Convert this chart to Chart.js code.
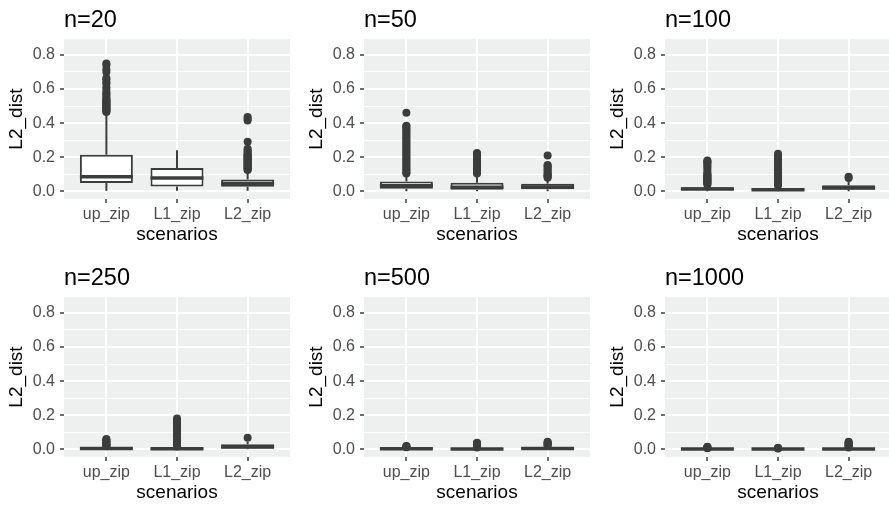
<!DOCTYPE html>
<html><head><meta charset="utf-8">
<script src="https://cdn.jsdelivr.net/npm/chart.js@4.4.1/dist/chart.umd.min.js"></script>
<style>
html,body{margin:0;padding:0;background:#fff;overflow:hidden;width:889px;height:505px;position:relative;}
canvas{position:absolute;}
</style></head><body>
<script>
// ---------- data ----------
const categories = ['up_zip', 'L1_zip', 'L2_zip'];
const categoryPositions = [1, 2, 3];
const panelTitles = ['n=20', 'n=50', 'n=100', 'n=250', 'n=500', 'n=1000'];
const yMajorTicks = [0.0, 0.2, 0.4, 0.6, 0.8];
const yTickLabels = ['0.0', '0.2', '0.4', '0.6', '0.8'];
const yMinorTicks = [0.1, 0.3, 0.5, 0.7];

// box statistics, one row per panel, one value per category
const whiskerLow = [
  [0.004, 0.003, 0.004],
  [0.001, 0.001, 0.001],
  [0.000, 0.000, 0.001],
  [0.000, 0.000, 0.000],
  [0.000, 0.000, 0.000],
  [0.000, 0.000, 0.000]
];
const q1 = [
  [0.049, 0.029, 0.027],
  [0.015, 0.009, 0.012],
  [0.007, 0.004, 0.010],
  [0.002, 0.001, 0.005],
  [0.001, 0.001, 0.002],
  [0.0005, 0.0005, 0.001]
];
const median = [
  [0.085, 0.078, 0.046],
  [0.033, 0.024, 0.026],
  [0.013, 0.009, 0.020],
  [0.005, 0.004, 0.014],
  [0.003, 0.002, 0.005],
  [0.0015, 0.0012, 0.0025]
];
const q3 = [
  [0.214, 0.137, 0.070],
  [0.057, 0.050, 0.044],
  [0.024, 0.020, 0.035],
  [0.009, 0.008, 0.030],
  [0.006, 0.005, 0.010],
  [0.003, 0.0025, 0.005]
];
const whiskerHigh = [
  [0.460, 0.241, 0.120],
  [0.100, 0.100, 0.075],
  [0.038, 0.032, 0.065],
  [0.016, 0.015, 0.045],
  [0.011, 0.009, 0.018],
  [0.0055, 0.0045, 0.009]
];

// outliers per panel: [up_zip, L1_zip, L2_zip]
const outliersN20 = [
  [0.465, 0.47, 0.475, 0.48, 0.485, 0.49, 0.495, 0.50, 0.505, 0.51, 0.515, 0.52, 0.525, 0.53, 0.535, 0.54, 0.55, 0.56, 0.57, 0.58, 0.595, 0.61, 0.63, 0.64, 0.655, 0.665, 0.70, 0.715, 0.74, 0.75],
  [],
  [0.125, 0.13, 0.135, 0.14, 0.145, 0.15, 0.155, 0.16, 0.165, 0.17, 0.175, 0.18, 0.185, 0.19, 0.195, 0.20, 0.205, 0.21, 0.215, 0.22, 0.23, 0.24, 0.25, 0.29, 0.415, 0.425, 0.435]
];
const outliersN50 = [
  [0.105, 0.11, 0.12, 0.13, 0.14, 0.15, 0.16, 0.17, 0.18, 0.19, 0.20, 0.21, 0.22, 0.23, 0.24, 0.25, 0.26, 0.27, 0.28, 0.29, 0.30, 0.31, 0.32, 0.33, 0.34, 0.35, 0.36, 0.37, 0.38, 0.385, 0.46],
  [0.105, 0.11, 0.12, 0.13, 0.14, 0.15, 0.16, 0.17, 0.18, 0.19, 0.20, 0.21, 0.22, 0.225],
  [0.08, 0.085, 0.09, 0.095, 0.10, 0.11, 0.12, 0.13, 0.14, 0.15, 0.155, 0.21]
];
const outliersN100 = [
  [0.04, 0.045, 0.05, 0.055, 0.06, 0.065, 0.07, 0.075, 0.08, 0.085, 0.09, 0.095, 0.10, 0.11, 0.125, 0.14, 0.15, 0.16, 0.17, 0.175, 0.18],
  [0.035, 0.04, 0.05, 0.06, 0.07, 0.08, 0.09, 0.10, 0.11, 0.12, 0.13, 0.14, 0.15, 0.16, 0.17, 0.18, 0.19, 0.20, 0.21, 0.22],
  [0.078, 0.085]
];
const outliersN250 = [
  [0.018, 0.022, 0.026, 0.03, 0.035, 0.04, 0.045, 0.05, 0.055, 0.06],
  [0.017, 0.02, 0.025, 0.03, 0.035, 0.04, 0.05, 0.06, 0.07, 0.08, 0.09, 0.10, 0.11, 0.12, 0.13, 0.14, 0.15, 0.16, 0.17, 0.18],
  [0.068]
];
const outliersN500 = [
  [0.012, 0.015, 0.018, 0.02],
  [0.011, 0.015, 0.02, 0.025, 0.03, 0.035, 0.038],
  [0.02, 0.025, 0.03, 0.035, 0.04, 0.045]
];
const outliersN1000 = [
  [0.006, 0.008, 0.01, 0.012, 0.015],
  [0.005, 0.007, 0.009],
  [0.01, 0.015, 0.02, 0.025, 0.03, 0.035, 0.04, 0.045]
];
const outliers = [outliersN20, outliersN50, outliersN100, outliersN250, outliersN500, outliersN1000];

// ---------- style / layout ----------
const FONT = "'Liberation Sans', Arial, Helvetica, sans-serif";
const LINE = '#3c3c3c';
const PANEL_BG = '#EEEFEF';
const colLeft = [0, 300, 601];
const rowTop = [0, 258];
const CW = 294, CH = 250;

const panelBg = {
  id: 'panelBg',
  beforeDraw(chart) {
    const { ctx, chartArea: a } = chart;
    ctx.save();
    ctx.fillStyle = PANEL_BG;
    ctx.fillRect(a.left, a.top, a.width, a.height);
    ctx.restore();
  }
};

function isMajor(v) { return yMajorTicks.some(m => Math.abs(m - v) < 1e-9); }

function makeChart(p) {
  const canvas = document.createElement('canvas');
  canvas.width = CW; canvas.height = CH;
  canvas.style.left = colLeft[p % 3] + 'px';
  canvas.style.top = rowTop[Math.floor(p / 3)] + 'px';
  canvas.style.width = CW + 'px'; canvas.style.height = CH + 'px';
  document.body.appendChild(canvas);

  const boxData = categories.map((c, i) => ({ x: categoryPositions[i], y: [q1[p][i], q3[p][i]] }));
  const outlierData = [];
  outliers[p].forEach((arr, i) => arr.forEach(v => outlierData.push({ x: categoryPositions[i], y: v })));

  const boxExtras = {
    id: 'boxExtras',
    beforeDatasetDraw(chart, args) {
      if (args.index !== 0) return;
      const ctx = chart.ctx, ys = chart.scales.y;
      const meta = chart.getDatasetMeta(0);
      ctx.save();
      ctx.strokeStyle = LINE; ctx.lineWidth = 2; ctx.lineCap = 'butt';
      meta.data.forEach((el, i) => {
        ctx.beginPath();
        ctx.moveTo(el.x, ys.getPixelForValue(q3[p][i]));
        ctx.lineTo(el.x, ys.getPixelForValue(whiskerHigh[p][i]));
        ctx.moveTo(el.x, ys.getPixelForValue(q1[p][i]));
        ctx.lineTo(el.x, ys.getPixelForValue(whiskerLow[p][i]));
        ctx.stroke();
      });
      ctx.restore();
    },
    afterDatasetDraw(chart, args) {
      if (args.index !== 0) return;
      const ctx = chart.ctx, ys = chart.scales.y;
      const meta = chart.getDatasetMeta(0);
      ctx.save();
      ctx.strokeStyle = LINE; ctx.lineWidth = 3.5; ctx.lineCap = 'butt';
      meta.data.forEach((el, i) => {
        const y = ys.getPixelForValue(median[p][i]);
        ctx.beginPath();
        ctx.moveTo(el.x - el.width / 2, y);
        ctx.lineTo(el.x + el.width / 2, y);
        ctx.stroke();
      });
      ctx.restore();
    }
  };

  new Chart(canvas, {
    type: 'bar',
    data: {
      datasets: [
        { type: 'bar', data: boxData, backgroundColor: '#ffffff', borderColor: LINE, borderWidth: 2,
          borderSkipped: false, barPercentage: 0.75, categoryPercentage: 1, order: 0 },
        { type: 'scatter', data: outlierData, pointRadius: 4, pointBackgroundColor: LINE,
          pointBorderWidth: 0, pointBorderColor: LINE, order: 1 }
      ]
    },
    options: {
      responsive: false, animation: false, events: [], devicePixelRatio: 1,
      layout: { padding: { left: 0, right: 3, top: 0, bottom: 0 } },
      plugins: {
        legend: { display: false },
        tooltip: { enabled: false },
        title: { display: true, text: panelTitles[p], align: 'start', fullSize: false,
          color: '#000', font: { size: 23.5, family: FONT, weight: 'normal' },
          padding: { top: 6, bottom: 4.8 } }
      },
      scales: {
        x: {
          type: 'linear', min: 0.4, max: 3.6, offset: false,
          afterBuildTicks: s => { s.ticks = categoryPositions.map(v => ({ value: v })); },
          afterFit: s => { s.height = CH - 39 - 160; },
          ticks: { callback: (v, i) => categories[i], autoSkip: false, maxRotation: 0, minRotation: 0,
            padding: 2, color: '#4d4d4d', font: { size: 16, family: FONT } },
          grid: { offset: false, color: '#ffffff', lineWidth: 2, tickLength: 4, tickColor: LINE, tickWidth: 1.5 },
          border: { display: false },
          title: { display: true, text: 'scenarios', color: '#000', font: { size: 19, family: FONT },
            padding: { top: 0, bottom: 3.6 } }
        },
        y: {
          type: 'linear', min: -0.045, max: 0.893, beginAtZero: false,
          afterBuildTicks: s => { s.ticks = yMajorTicks.concat(yMinorTicks).sort((a, b) => a - b).map(v => ({ value: v })); },
          afterFit: s => { s.width = 64; },
          ticks: {
            callback: v => { const k = yMajorTicks.findIndex(m => Math.abs(m - v) < 1e-9); return k >= 0 ? yTickLabels[k] : ''; },
            autoSkip: false, padding: 5, color: '#4d4d4d', font: { size: 16, family: FONT }
          },
          grid: {
            color: '#ffffff',
            lineWidth: ctx => (ctx.tick && isMajor(ctx.tick.value)) ? 2 : 1,
            tickColor: ctx => (ctx.tick && isMajor(ctx.tick.value)) ? LINE : 'rgba(0,0,0,0)',
            tickLength: 4, tickWidth: 1.5
          },
          border: { display: false },
          title: { display: true, text: 'L2_dist', color: '#000', font: { size: 19, family: FONT },
            padding: { top: 5.6, bottom: 0 } }
        }
      }
    },
    plugins: [panelBg, boxExtras]
  });
}

for (let p = 0; p < 6; p++) makeChart(p);
</script>
</body></html>
